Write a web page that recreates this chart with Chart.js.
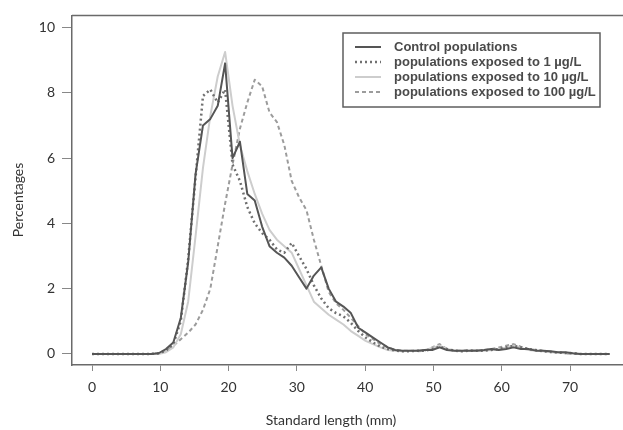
<!DOCTYPE html>
<html>
<head>
<meta charset="utf-8">
<script src="https://cdn.jsdelivr.net/npm/chart.js@4.4.0/dist/chart.umd.min.js"></script>
<style>
  html, body { margin: 0; padding: 0; background: #fff; }
  #wrap { width: 623px; height: 430px; }
</style>
</head>
<body>
<div id="wrap"><canvas id="lengthChart" width="623" height="430"></canvas></div>
<script>
// Standard length of each sample point (mm)
const lengths = [
    0, 1.08, 2.17, 3.25, 4.33, 5.42, 6.5, 7.58, 8.66, 9.75,
    10.83, 11.91, 13.0, 14.08, 15.16, 16.25, 17.33, 18.41, 19.49, 20.58,
    21.66, 22.74, 23.83, 24.91, 25.99, 27.08, 28.16, 29.24, 30.32, 31.41,
    32.49, 33.57, 34.66, 35.74, 36.82, 37.91, 38.99, 40.07, 41.15, 42.24,
    43.32, 44.4, 45.49, 46.57, 47.65, 48.74, 49.82, 50.9, 51.98, 53.07,
    54.15, 55.23, 56.32, 57.4, 58.48, 59.57, 60.65, 61.73, 62.81, 63.9,
    64.98, 66.06, 67.15, 68.23, 69.31, 70.4, 71.48, 72.56, 73.64, 74.73,
    75.81,
];

// Percentages at each point
const controlPct = [
    0, 0, 0, 0, 0, 0, 0, 0, 0,
    0.02, 0.15, 0.35, 1.1, 2.8, 5.5, 7.0, 7.2, 7.6, 8.9, 6.0,
    6.5, 4.9, 4.7, 3.9, 3.3, 3.1, 2.95, 2.7, 2.35, 2.0,
    2.4, 2.65, 2.0, 1.6, 1.45, 1.25, 0.8, 0.65, 0.5, 0.35,
    0.2, 0.12, 0.1, 0.1, 0.1, 0.12, 0.12, 0.2, 0.12, 0.1,
    0.1, 0.1, 0.1, 0.12, 0.15, 0.12, 0.15, 0.2, 0.15, 0.15,
    0.1, 0.1, 0.08, 0.05, 0.05, 0.02,
    0, 0, 0, 0, 0,
];
const exposed1Pct = [
    0, 0, 0, 0, 0, 0, 0, 0, 0,
    0.02, 0.1, 0.3, 1.0, 2.9, 5.4, 7.9, 8.1, 7.7, 8.1, 5.8,
    5.3, 4.5, 4.0, 3.7, 3.5, 3.2, 3.1, 3.4, 3.0, 2.6,
    2.1, 1.7, 1.4, 1.25, 1.15, 0.95, 0.7, 0.5, 0.35, 0.22,
    0.15, 0.1, 0.08, 0.08, 0.1, 0.1, 0.15, 0.22, 0.15, 0.1,
    0.08, 0.1, 0.1, 0.1, 0.12, 0.15, 0.2, 0.25, 0.2, 0.15,
    0.12, 0.08, 0.06, 0.04, 0.03, 0.02,
    0, 0, 0, 0, 0,
];
const exposed10Pct = [
    0, 0, 0, 0, 0, 0, 0, 0, 0, 0,
    0.05, 0.2, 0.6, 1.6, 3.6, 5.7, 7.3, 8.5, 9.25, 7.6,
    6.4, 5.6, 4.9, 4.3, 3.8, 3.5, 3.3, 3.1, 2.6, 2.1,
    1.6, 1.4, 1.2, 1.05, 0.9, 0.7, 0.55, 0.4, 0.3, 0.2,
    0.12, 0.1, 0.08, 0.1, 0.1, 0.12, 0.18, 0.25, 0.15, 0.1,
    0.1, 0.1, 0.12, 0.1, 0.12, 0.15, 0.2, 0.25, 0.18, 0.12,
    0.1, 0.08, 0.05, 0.04, 0.02, 0.02,
    0, 0, 0, 0, 0,
];
const exposed100Pct = [
    0, 0, 0, 0, 0, 0, 0, 0, 0,
    0.02, 0.1, 0.25, 0.45, 0.65, 0.9, 1.35, 2.0, 3.3, 4.6, 5.8,
    6.9, 7.7, 8.4, 8.2, 7.4, 7.1, 6.4, 5.3, 4.8, 4.4,
    3.5, 2.7, 1.9, 1.55, 1.35, 1.1, 0.85, 0.6, 0.45, 0.3,
    0.2, 0.12, 0.1, 0.1, 0.08, 0.1, 0.2, 0.3, 0.15, 0.1,
    0.1, 0.12, 0.1, 0.12, 0.15, 0.2, 0.25, 0.3, 0.22, 0.15,
    0.12, 0.1, 0.06, 0.05, 0.02, 0,
    0, 0, 0, 0, 0,
];

const seriesLabels = [
    "Control populations",
    "populations exposed to 1 µg/L",
    "populations exposed to 10 µg/L",
    "populations exposed to 100 µg/L",
];
const xTickValues = [0, 10, 20, 30, 40, 50, 60, 70];
const yTickValues = [0, 2, 4, 6, 8, 10];

const toPoints = (values) => lengths.map((x, i) => ({ x, y: values[i] }));

// Frame, boxed legend and axis titles
const decorPlugin = {
    id: "decor",
    afterDraw(chart) {
        const { ctx, chartArea } = chart;
        ctx.save();

        // top frame line
        ctx.strokeStyle = "#6a6a6a";
        ctx.lineWidth = 1.5;
        ctx.beginPath();
        ctx.moveTo(chartArea.left, chartArea.top);
        ctx.lineTo(chartArea.right, chartArea.top);
        ctx.stroke();

        // legend box
        ctx.strokeStyle = "#5e5e5e";
        ctx.lineWidth = 1.5;
        ctx.strokeRect(343, 33, 257, 74);

        chart.data.datasets.forEach((ds, i) => {
            const y = 47 + i * 15;
            ctx.strokeStyle = ds.borderColor;
            ctx.lineWidth = ds.borderWidth;
            ctx.setLineDash(ds.borderDash || []);
            ctx.beginPath();
            ctx.moveTo(355, y);
            ctx.lineTo(381, y);
            ctx.stroke();
            ctx.setLineDash([]);
            ctx.fillStyle = "#4a4a4a";
            ctx.font = "bold 13px 'Liberation Sans', Arial, sans-serif";
            ctx.textBaseline = "middle";
            ctx.textAlign = "left";
            ctx.fillText(ds.label, 394, y);
        });

        // axis titles
        ctx.fillStyle = "#333";
        ctx.font = "14px Lato, sans-serif";
        ctx.textAlign = "center";
        ctx.textBaseline = "middle";
        ctx.fillText("Standard length (mm)", 331, 420);

        ctx.translate(18, 200);
        ctx.rotate(-Math.PI / 2);
        ctx.fillText("Percentages", 0, 0);
        ctx.restore();
    },
};

function renderLengthChart() {
    const ctx = document.getElementById("lengthChart").getContext("2d");
    new Chart(ctx, {
        type: "line",
        data: {
            datasets: [
                {
                    label: seriesLabels[0],
                    data: toPoints(controlPct),
                    borderColor: "#555555",
                    borderWidth: 2,
                },
                {
                    label: seriesLabels[1],
                    data: toPoints(exposed1Pct),
                    borderColor: "#707070",
                    borderWidth: 2.5,
                    borderDash: [2, 3],
                },
                {
                    label: seriesLabels[2],
                    data: toPoints(exposed10Pct),
                    borderColor: "#cdcdcd",
                    borderWidth: 2,
                },
                {
                    label: seriesLabels[3],
                    data: toPoints(exposed100Pct),
                    borderColor: "#9c9c9c",
                    borderWidth: 2,
                    borderDash: [4, 3],
                },
            ],
        },
        options: {
            responsive: false,
            animation: false,
            layout: { padding: { top: 14, right: 0, left: 0, bottom: 0 } },
            elements: {
                point: { radius: 0 },
                line: { tension: 0, borderJoinStyle: "round" },
            },
            plugins: {
                legend: { display: false },
                tooltip: { enabled: false },
            },
            scales: {
                x: {
                    type: "linear",
                    min: -2.93,
                    max: 77.76,
                    afterBuildTicks: (scale) => {
                        scale.ticks = xTickValues.map((value) => ({ value }));
                    },
                    afterFit: (scale) => {
                        scale.height = 65;
                    },
                    ticks: {
                        color: "#333",
                        font: { family: "Lato", size: 14 },
                        padding: 8,
                        maxRotation: 0,
                    },
                    grid: {
                        drawOnChartArea: false,
                        drawTicks: true,
                        tickLength: 6,
                        color: "#888",
                    },
                    border: { display: true, color: "#6a6a6a", width: 1.5 },
                },
                y: {
                    min: -0.34,
                    max: 10.37,
                    afterBuildTicks: (scale) => {
                        scale.ticks = yTickValues.map((value) => ({ value }));
                    },
                    afterFit: (scale) => {
                        scale.width = 72;
                    },
                    ticks: {
                        color: "#333",
                        font: { family: "Lato", size: 14 },
                        padding: 7,
                    },
                    grid: {
                        drawOnChartArea: false,
                        drawTicks: true,
                        tickLength: 10,
                        color: "#888",
                    },
                    border: { display: true, color: "#6a6a6a", width: 1.5 },
                },
            },
        },
        plugins: [decorPlugin],
    });
}

document.addEventListener("DOMContentLoaded", () => {
    renderLengthChart();
});
</script>
</body>
</html>
